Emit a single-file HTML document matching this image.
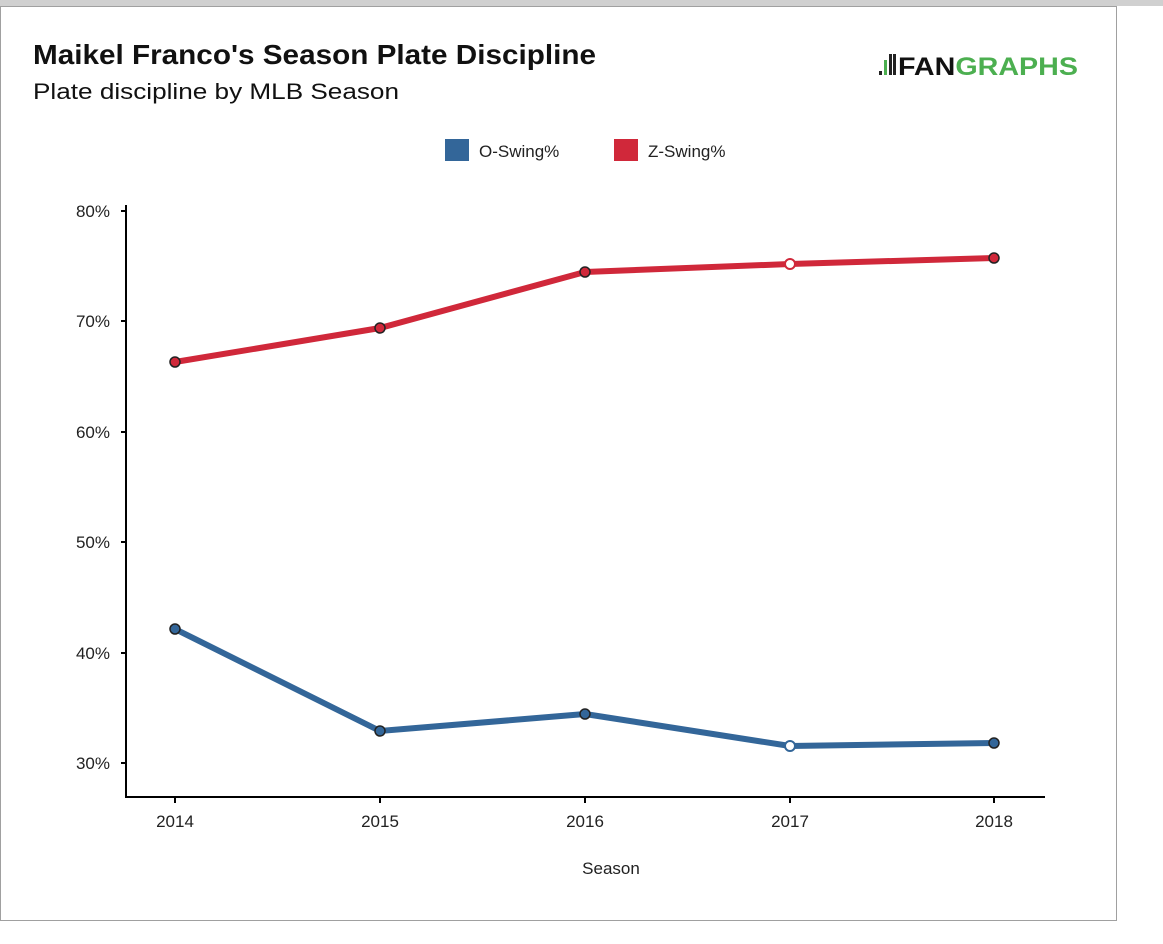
<!DOCTYPE html>
<html><head><meta charset="utf-8"><style>
body{margin:0;width:1163px;height:939px;background:#fff;overflow:hidden;font-family:"Liberation Sans",sans-serif}
</style></head><body>
<svg width="1163" height="939" xmlns="http://www.w3.org/2000/svg" font-family="Liberation Sans, sans-serif">
<rect x="0" y="0" width="1163" height="6" fill="#d0d0d0"/>
<rect x="0.5" y="6.5" width="1116" height="914" fill="#fff" stroke="#a0a0a0"/>
<text x="33" y="64" font-size="28" font-weight="bold" fill="#111" textLength="563" lengthAdjust="spacingAndGlyphs">Maikel Franco's Season Plate Discipline</text>
<text x="33" y="99" font-size="22" fill="#111" textLength="366" lengthAdjust="spacingAndGlyphs">Plate discipline by MLB Season</text>
<g fill="#222"><rect x="879" y="71" width="3" height="4"/><rect x="884" y="60" width="3" height="15" fill="#4caf50"/><rect x="889" y="54" width="3" height="21"/><rect x="893" y="54" width="3" height="21"/></g>
<text x="898" y="75" font-size="25" font-weight="bold" fill="#111" textLength="180" lengthAdjust="spacingAndGlyphs">FAN<tspan fill="#4caf50">GRAPHS</tspan></text>
<rect x="445" y="139" width="24" height="22" fill="#336699"/>
<text x="479" y="157" font-size="17" fill="#222">O-Swing%</text>
<rect x="614" y="139" width="24" height="22" fill="#d0283a"/>
<text x="648" y="157" font-size="17" fill="#222">Z-Swing%</text>
<g stroke="#000" stroke-width="2">
<line x1="126" y1="205" x2="126" y2="798"/>
<line x1="125" y1="797" x2="1045" y2="797"/>
<line x1="121" y1="211" x2="126" y2="211"/><line x1="121" y1="321" x2="126" y2="321"/><line x1="121" y1="432" x2="126" y2="432"/><line x1="121" y1="542" x2="126" y2="542"/><line x1="121" y1="653" x2="126" y2="653"/><line x1="121" y1="763" x2="126" y2="763"/>
<line x1="175" y1="797" x2="175" y2="803"/><line x1="380" y1="797" x2="380" y2="803"/><line x1="585" y1="797" x2="585" y2="803"/><line x1="790" y1="797" x2="790" y2="803"/><line x1="994" y1="797" x2="994" y2="803"/>
</g>
<g font-size="17" fill="#222" text-anchor="end">
<text x="110" y="217">80%</text><text x="110" y="327">70%</text><text x="110" y="438">60%</text><text x="110" y="548">50%</text><text x="110" y="659">40%</text><text x="110" y="769">30%</text>
</g>
<g font-size="17" fill="#222" text-anchor="middle">
<text x="175" y="827">2014</text><text x="380" y="827">2015</text><text x="585" y="827">2016</text><text x="790" y="827">2017</text><text x="994" y="827">2018</text>
<text x="611" y="874">Season</text>
</g>
<polyline points="175,362 380,328 585,272 790,264 994,258" fill="none" stroke="#d0283a" stroke-width="6" stroke-linejoin="round"/>
<polyline points="175,629 380,731 585,714 790,746 994,743" fill="none" stroke="#336699" stroke-width="6" stroke-linejoin="round"/>
<g stroke="#222" stroke-width="1.5">
<circle cx="175" cy="362" r="5" fill="#d0283a"/><circle cx="380" cy="328" r="5" fill="#d0283a"/><circle cx="585" cy="272" r="5" fill="#d0283a"/><circle cx="790" cy="264" r="5" fill="#fff" stroke="#d0283a" stroke-width="2"/><circle cx="994" cy="258" r="5" fill="#d0283a"/>
<circle cx="175" cy="629" r="5" fill="#336699"/><circle cx="380" cy="731" r="5" fill="#336699"/><circle cx="585" cy="714" r="5" fill="#336699"/><circle cx="790" cy="746" r="5" fill="#fff" stroke="#336699" stroke-width="2"/><circle cx="994" cy="743" r="5" fill="#336699"/>
</g>
</svg>
</body></html>
